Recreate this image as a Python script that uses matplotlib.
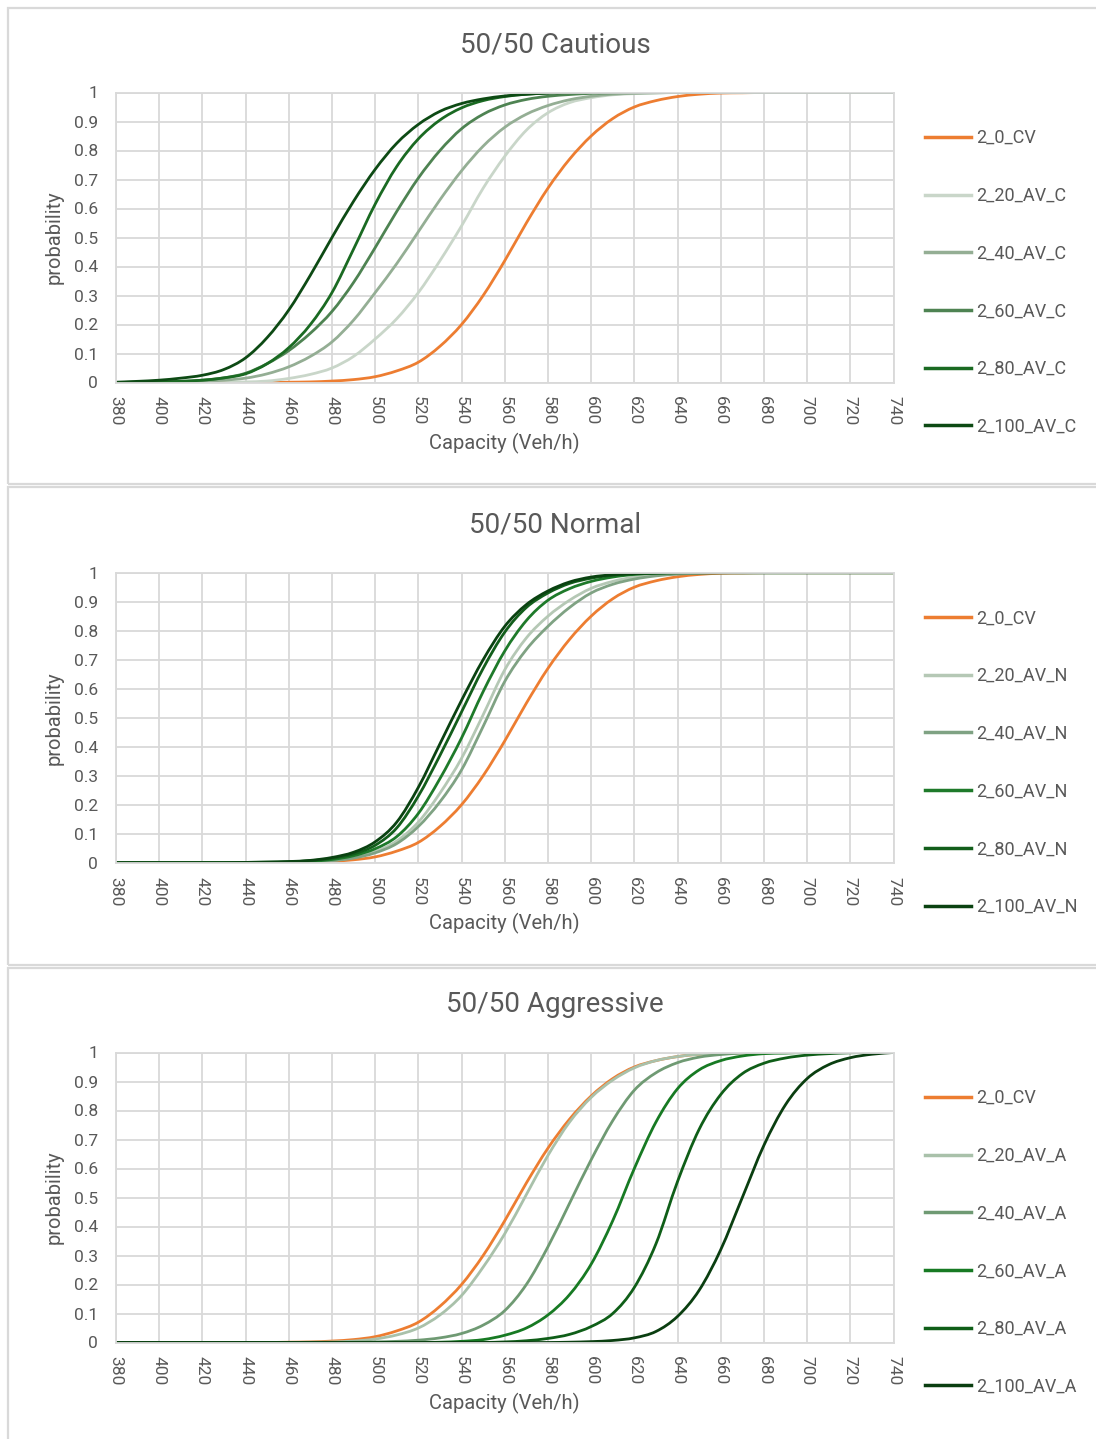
import matplotlib
matplotlib.use("Agg")
import matplotlib.pyplot as plt
from matplotlib.patches import Rectangle, PathPatch
from matplotlib.path import Path
from matplotlib.lines import Line2D

plt.rcParams['font.family'] = ['Roboto', 'DejaVu Sans']

# ---------------- data ----------------
capacity = [380, 390, 400, 410, 420, 430, 440, 450, 460, 470,
            480, 490, 500, 510, 520, 530, 540, 550, 560, 570,
            580, 590, 600, 610, 620, 630, 640, 650, 660, 670,
            680, 690, 700, 710, 720, 730, 740]
x_ticks = [380, 400, 420, 440, 460, 480, 500, 520, 540, 560, 580,
           600, 620, 640, 660, 680, 700, 720, 740]
y_ticks = [0, 0.1, 0.2, 0.3, 0.4, 0.5, 0.6, 0.7, 0.8, 0.9, 1]
y_tick_labels = ["0", "0.1", "0.2", "0.3", "0.4", "0.5", "0.6", "0.7", "0.8", "0.9", "1"]

cv = [0, 0, 0, 0, 0, 0, 0, 0, 0.001, 0.002,
      0.005, 0.01, 0.02, 0.04, 0.07, 0.125, 0.2, 0.3, 0.42, 0.55,
      0.67, 0.77, 0.85, 0.91, 0.95, 0.972, 0.986, 0.994, 0.998, 0.999,
      1, 1, 1, 1, 1, 1, 1]

# Cautious
c20 = [0, 0, 0, 0, 0, 0, 0.002, 0.005, 0.014, 0.028,
       0.05, 0.09, 0.15, 0.22, 0.31, 0.42, 0.54, 0.67, 0.78, 0.87,
       0.93, 0.965, 0.982, 0.992, 0.996, 0.998, 1, 1, 1, 1,
       1, 1, 1, 1, 1, 1, 1]
c40 = [0, 0, 0.001, 0.002, 0.004, 0.008, 0.015, 0.03, 0.054, 0.09,
       0.14, 0.215, 0.31, 0.41, 0.52, 0.63, 0.73, 0.815, 0.88, 0.925,
       0.955, 0.975, 0.987, 0.994, 0.997, 0.999, 1, 1, 1, 1,
       1, 1, 1, 1, 1, 1, 1]
c60 = [0, 0.001, 0.002, 0.004, 0.008, 0.016, 0.032, 0.065, 0.11, 0.17,
       0.245, 0.345, 0.465, 0.59, 0.705, 0.8, 0.875, 0.925, 0.957, 0.976,
       0.987, 0.993, 0.997, 0.999, 1, 1, 1, 1, 1, 1,
       1, 1, 1, 1, 1, 1, 1]
c80 = [0, 0.001, 0.002, 0.004, 0.008, 0.016, 0.03, 0.065, 0.12, 0.2,
       0.31, 0.46, 0.615, 0.745, 0.84, 0.905, 0.947, 0.972, 0.986, 0.994,
       0.998, 1, 1, 1, 1, 1, 1, 1, 1, 1,
       1, 1, 1, 1, 1, 1, 1]
c100 = [0.001, 0.004, 0.008, 0.015, 0.025, 0.045, 0.085, 0.155, 0.25, 0.37,
        0.5, 0.625, 0.735, 0.825, 0.89, 0.935, 0.962, 0.978, 0.988, 0.994,
        0.998, 1, 1, 1, 1, 1, 1, 1, 1, 1,
        1, 1, 1, 1, 1, 1, 1]

# Normal
n20 = [0, 0, 0, 0, 0, 0, 0, 0, 0.001, 0.003,
       0.008, 0.018, 0.038, 0.075, 0.14, 0.24, 0.36, 0.51, 0.665, 0.775,
       0.85, 0.905, 0.946, 0.97, 0.985, 0.993, 0.997, 1, 1, 1,
       1, 1, 1, 1, 1, 1, 1]
n40 = [0, 0, 0, 0, 0, 0, 0, 0, 0.001, 0.003,
       0.007, 0.016, 0.034, 0.066, 0.125, 0.21, 0.32, 0.47, 0.625, 0.735,
       0.815, 0.88, 0.93, 0.96, 0.978, 0.989, 0.995, 0.998, 1, 1,
       1, 1, 1, 1, 1, 1, 1]
n60 = [0, 0, 0, 0, 0, 0, 0, 0.001, 0.002, 0.005,
       0.011, 0.024, 0.048, 0.09, 0.17, 0.29, 0.43, 0.59, 0.73, 0.835,
       0.905, 0.945, 0.97, 0.985, 0.994, 0.998, 1, 1, 1, 1,
       1, 1, 1, 1, 1, 1, 1]
n80 = [0, 0, 0, 0, 0, 0, 0.001, 0.002, 0.003, 0.007,
       0.015, 0.03, 0.06, 0.12, 0.23, 0.37, 0.52, 0.67, 0.795, 0.88,
       0.93, 0.963, 0.981, 0.991, 0.996, 0.999, 1, 1, 1, 1,
       1, 1, 1, 1, 1, 1, 1]
n100 = [0, 0, 0, 0, 0, 0, 0.001, 0.002, 0.004, 0.008,
        0.018, 0.036, 0.072, 0.14, 0.26, 0.41, 0.56, 0.7, 0.815, 0.89,
        0.937, 0.968, 0.985, 0.993, 0.997, 0.999, 1, 1, 1, 1,
        1, 1, 1, 1, 1, 1, 1]

# Aggressive
a20 = [0, 0, 0, 0, 0, 0, 0, 0, 0, 0.001,
       0.002, 0.005, 0.012, 0.026, 0.05, 0.095, 0.162, 0.26, 0.375, 0.51,
       0.645, 0.76, 0.845, 0.905, 0.947, 0.972, 0.986, 0.994, 0.998, 0.999,
       1, 1, 1, 1, 1, 1, 1]
a40 = [0, 0, 0, 0, 0, 0, 0, 0, 0, 0,
       0, 0.001, 0.002, 0.004, 0.008, 0.016, 0.031, 0.06, 0.11, 0.2,
       0.33, 0.48, 0.63, 0.765, 0.87, 0.93, 0.965, 0.984, 0.993, 0.998,
       1, 1, 1, 1, 1, 1, 1]
a60 = [0, 0, 0, 0, 0, 0, 0, 0, 0, 0,
       0, 0, 0, 0, 0, 0.001, 0.004, 0.01, 0.025, 0.05,
       0.095, 0.165, 0.27, 0.42, 0.6, 0.76, 0.875, 0.94, 0.972, 0.988,
       0.996, 0.998, 1, 1, 1, 1, 1]
a80 = [0, 0, 0, 0, 0, 0, 0, 0, 0, 0,
       0, 0, 0, 0, 0, 0, 0, 0, 0.002, 0.006,
       0.014, 0.028, 0.055, 0.1, 0.19, 0.34, 0.555, 0.735, 0.855, 0.927,
       0.963, 0.981, 0.991, 0.996, 0.999, 1, 1]
a100 = [0, 0, 0, 0, 0, 0, 0, 0, 0, 0,
        0, 0, 0, 0, 0, 0, 0, 0, 0, 0,
        0, 0.001, 0.003, 0.007, 0.016, 0.038, 0.09, 0.18, 0.32, 0.5,
        0.68, 0.82, 0.91, 0.958, 0.982, 0.994, 1]

panels = [
    ("50/50 Cautious",
     ["2_0_CV", "2_20_AV_C", "2_40_AV_C", "2_60_AV_C", "2_80_AV_C", "2_100_AV_C"],
     [cv, c20, c40, c60, c80, c100],
     ["#ED7D31", "#C9D6C9", "#94AE94", "#4E8352", "#1A6A22", "#0D4A14"]),
    ("50/50 Normal",
     ["2_0_CV", "2_20_AV_N", "2_40_AV_N", "2_60_AV_N", "2_80_AV_N", "2_100_AV_N"],
     [cv, n20, n40, n60, n80, n100],
     ["#ED7D31", "#B5C8B5", "#7FA283", "#1E7A2A", "#125E1B", "#0A4211"]),
    ("50/50 Aggressive",
     ["2_0_CV", "2_20_AV_A", "2_40_AV_A", "2_60_AV_A", "2_80_AV_A", "2_100_AV_A"],
     [cv, a20, a40, a60, a80, a100],
     ["#ED7D31", "#A9C1AA", "#6F9A73", "#177A23", "#0F5E18", "#0A3E10"]),
]


def smooth_path(xs, ys):
    """Excel-style smoothed line: cubic Bezier segments through the data points."""
    n = len(xs)
    verts = [(xs[0], ys[0])]
    codes = [Path.MOVETO]
    for i in range(n - 1):
        x0, y0 = (xs[i - 1], ys[i - 1]) if i > 0 else (xs[i], ys[i])
        x1, y1 = xs[i], ys[i]
        x2, y2 = xs[i + 1], ys[i + 1]
        x3, y3 = (xs[i + 2], ys[i + 2]) if i + 2 < n else (xs[i + 1], ys[i + 1])
        c1 = (x1 + (x2 - x0) / 6.0, y1 + (y2 - y0) / 6.0)
        c2 = (x2 - (x3 - x1) / 6.0, y2 - (y3 - y1) / 6.0)
        verts += [c1, c2, (x2, y2)]
        codes += [Path.CURVE4] * 3
    return Path(verts, codes)


# ---------------- layout ----------------
W, H = 1096, 1439
fig = plt.figure(figsize=(W / 100, H / 100), dpi=100)
fig.patch.set_facecolor("white")

TEXT = "#595959"
GRID = "#D9D9D9"

panel_tops = [8, 487, 968]
panel_bottoms = [484, 965, 1460]
axes_tops = [92.5, 572.7, 1052.5]
plot_h = 290.0
left_px, right_px = 116.0, 893.5

for i, (title, labels, series, colors) in enumerate(panels):
    t, b = panel_tops[i], panel_bottoms[i]
    fig.add_artist(Rectangle((7.5 / W, 1 - b / H), (W + 20) / W, (b - t) / H,
                             transform=fig.transFigure, fill=False,
                             edgecolor="#D9D9D9", linewidth=1.6, zorder=0))
    top = axes_tops[i]
    ax = fig.add_axes([left_px / W, 1 - (top + plot_h) / H,
                       (right_px - left_px) / W, plot_h / H])
    handles = []
    for lab, ys, col in zip(labels, series, colors):
        patch = PathPatch(smooth_path(capacity, ys), facecolor="none",
                          edgecolor=col, lw=2.0, capstyle="round",
                          joinstyle="round", transform=ax.transData)
        ax.add_patch(patch)
        handles.append(Line2D([], [], color=col, lw=2.5, label=lab))
    ax.set_xlim(380, 740)
    ax.set_ylim(0, 1)
    ax.set_xticks(x_ticks)
    ax.set_xticklabels([str(v) for v in x_ticks], rotation=-90, fontsize=12.5, color=TEXT)
    ax.set_yticks(y_ticks)
    ax.set_yticklabels(y_tick_labels, fontsize=12.5, color=TEXT)
    ax.tick_params(axis="both", length=0)
    ax.tick_params(axis="y", pad=13)
    ax.tick_params(axis="x", pad=10)
    ax.grid(True, color=GRID, lw=1.3)
    ax.set_axisbelow(True)
    for sp in ax.spines.values():
        sp.set_color(GRID)
        sp.set_linewidth(1.3)
    ax.set_xlabel("Capacity (Veh/h)", fontsize=14.5, color=TEXT, labelpad=5)
    ax.set_ylabel("probability", fontsize=14.5, color=TEXT, labelpad=7)
    fig.text(555 / W, 1 - (top - 48) / H, title, ha="center", va="center",
             fontsize=20, color=TEXT)
    leg = ax.legend(handles=handles, loc="center left", bbox_to_anchor=(1.041, 0.345),
                    frameon=False, fontsize=13, handlelength=2.5,
                    handletextpad=0.3, labelspacing=2.2, borderpad=0,
                    borderaxespad=0)
    for txt in leg.get_texts():
        txt.set_color(TEXT)

fig.savefig("out.png", dpi=100, facecolor="white")
